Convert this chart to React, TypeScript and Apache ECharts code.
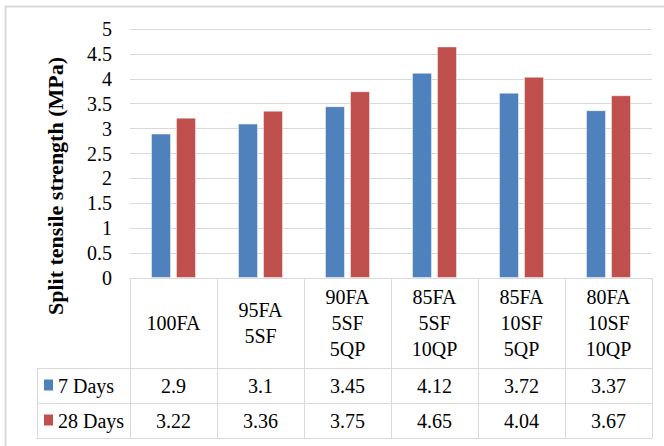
import React, { useEffect, useRef } from "react";
import * as echarts from "echarts";

const categories = ["100FA", "95FA\n5SF", "90FA\n5SF\n5QP", "85FA\n5SF\n10QP", "85FA\n10SF\n5QP", "80FA\n10SF\n10QP"];
const seriesNames = ["7 Days", "28 Days"];
const days7 = [2.9, 3.1, 3.45, 4.12, 3.72, 3.37];
const days28 = [3.22, 3.36, 3.75, 4.65, 4.04, 3.67];
const seriesColors = ["#4F81BD", "#C0504D"];
const yTitle = "Split tensile strength (MPa)";

const FONT = "Liberation Serif";
const W = 664;
const H = 446;
const GRID_LEFT = 130;
const GRID_RIGHT = 652;
const GRID_TOP = 29;
const GRID_BOTTOM = 278;
const ROW1 = 368;
const ROW2 = 403;
const ROW3 = 438;
const TABLE_LEFT = 37;
const LINE = "#D9D9D9";

export default function App() {
  const ref = useRef<HTMLDivElement>(null);
  useEffect(() => {
    if (!ref.current) return;
    const chart = echarts.init(ref.current, null, { renderer: "svg" });
    const catW = (GRID_RIGHT - GRID_LEFT) / categories.length;
    const graphics: any[] = [];
    graphics.push({
      type: "rect",
      shape: { x: 5.5, y: 6.5, width: 700, height: 500 },
      style: { fill: "none", stroke: LINE, lineWidth: 2 },
      silent: true,
    });
    [ROW1, ROW2, ROW3].forEach((y) => {
      graphics.push({
        type: "line",
        shape: { x1: TABLE_LEFT, y1: y + 0.5, x2: GRID_RIGHT, y2: y + 0.5 },
        style: { stroke: LINE, lineWidth: 1 },
        silent: true,
      });
    });
    graphics.push({
      type: "line",
      shape: { x1: TABLE_LEFT + 0.5, y1: ROW1, x2: TABLE_LEFT + 0.5, y2: ROW3 },
      style: { stroke: LINE, lineWidth: 1 },
      silent: true,
    });
    for (let k = 0; k <= categories.length; k++) {
      const x = Math.round(GRID_LEFT + k * catW) + 0.5;
      graphics.push({
        type: "line",
        shape: { x1: x, y1: GRID_BOTTOM, x2: x, y2: ROW3 },
        style: { stroke: LINE, lineWidth: 1 },
        silent: true,
      });
    }
    const rowCenters = [(ROW1 + ROW2) / 2, (ROW2 + ROW3) / 2];
    seriesNames.forEach((name, i) => {
      graphics.push({
        type: "rect",
        shape: { x: 44, y: rowCenters[i] - 6, width: 9, height: 11 },
        style: { fill: seriesColors[i] },
        silent: true,
      });
      graphics.push({
        type: "text",
        x: 58,
        y: rowCenters[i],
        style: {
          text: name,
          fontFamily: FONT,
          fontSize: 20,
          fill: "#000",
          align: "left",
          verticalAlign: "middle",
        },
        silent: true,
      });
    });
    graphics.push({
      type: "text",
      x: 55,
      y: 186,
      rotation: Math.PI / 2,
      style: {
        text: yTitle,
        fontFamily: FONT,
        fontSize: 22,
        fontWeight: "bold",
        fill: "#000",
        align: "center",
        verticalAlign: "middle",
      },
      silent: true,
    });

    const labelBase = {
      fontFamily: FONT,
      fontSize: 20,
      color: "#000",
      interval: 0,
      verticalAlign: "middle" as const,
    };

    chart.setOption({
      animation: false,
      textStyle: { fontFamily: FONT },
      grid: {
        left: GRID_LEFT,
        right: W - GRID_RIGHT,
        top: GRID_TOP,
        bottom: H - GRID_BOTTOM,
        containLabel: false,
      },
      xAxis: [
        {
          type: "category",
          data: categories,
          position: "bottom",
          axisLine: { show: true, lineStyle: { color: LINE, width: 1 } },
          axisTick: { show: false },
          axisLabel: { ...labelBase, lineHeight: 26, margin: 45 },
        },
        {
          type: "category",
          data: days7.map(String),
          position: "bottom",
          offset: (ROW1 + ROW2) / 2 - GRID_BOTTOM,
          axisLine: { show: false },
          axisTick: { show: false },
          axisLabel: { ...labelBase, margin: 0 },
        },
        {
          type: "category",
          data: days28.map(String),
          position: "bottom",
          offset: (ROW2 + ROW3) / 2 - GRID_BOTTOM,
          axisLine: { show: false },
          axisTick: { show: false },
          axisLabel: { ...labelBase, margin: 0 },
        },
      ],
      yAxis: {
        type: "value",
        min: 0,
        max: 5,
        interval: 0.5,
        axisLine: { show: false },
        axisTick: { show: false },
        axisLabel: { fontFamily: FONT, fontSize: 20, color: "#000", margin: 18 },
        splitLine: { lineStyle: { color: LINE, width: 1 } },
      },
      series: [days7, days28].map((d, i) => ({
        type: "bar",
        name: seriesNames[i],
        data: d,
        xAxisIndex: 0,
        barWidth: 20,
        barGap: "25%",
        itemStyle: {
          color: seriesColors[i],
          borderColor: "rgba(255,255,255,0.45)",
          borderWidth: 1,
        },
      })),
      graphic: graphics,
    });
    return () => chart.dispose();
  }, []);
  return (
    <div style={{ fontFamily: FONT }}>
      <div
        ref={ref}
        style={{ position: "fixed", left: 0, top: 0, width: W, height: H, background: "#fff" }}
      />
    </div>
  );
}
